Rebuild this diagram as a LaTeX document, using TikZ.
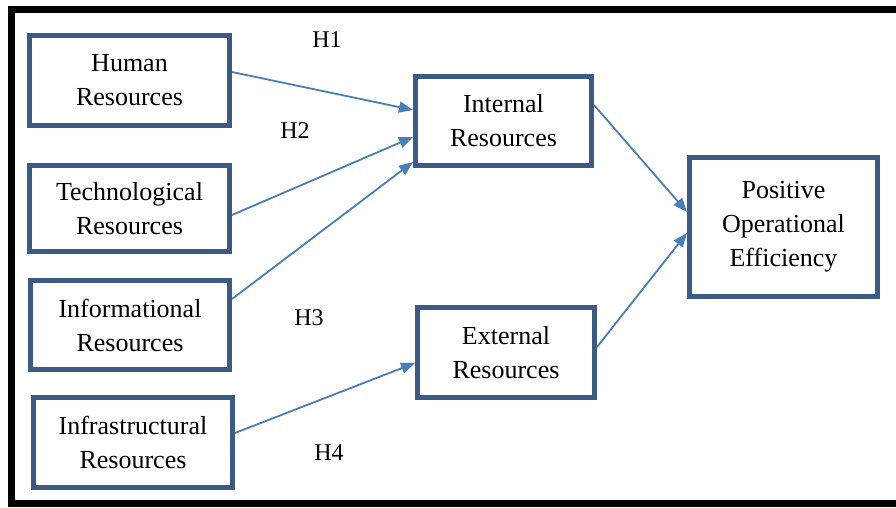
\documentclass[tikz,border=0pt]{standalone}
\usepackage{fontspec}
\setmainfont{Liberation Serif}
\usetikzlibrary{arrows.meta}
\definecolor{boxblue}{HTML}{3B5B84}
\definecolor{arrblue}{HTML}{4A7EBB}
\tikzset{
  rbox/.style={draw=boxblue, line width=5pt, fill=white, align=center,
    inner sep=0pt, font=\fontsize{26}{34}\selectfont},
  conn/.style={draw=arrblue, line width=1.8pt,
    -{Triangle[length=14pt,width=11pt]}},
  hlab/.style={font=\fontsize{24}{28}\selectfont, inner sep=0pt}
}
\begin{document}
\begin{tikzpicture}[x=1pt,y=-1pt]
\useasboundingbox (0,0) rectangle (896,508);
\clip (0,0) rectangle (896,508);
\fill[white] (0,0) rectangle (896,508);
\draw[black, line width=7pt] (11.5,9.5) rectangle (905,503);

\node[rbox, minimum width=200pt, minimum height=90pt] (hum) at (129.5,80.5) {Human\\Resources};
\node[rbox, minimum width=200pt, minimum height=86pt] (tech) at (129.5,208.5) {Technological\\Resources};
\node[rbox, minimum width=199pt, minimum height=89pt] (info) at (130,325) {Informational\\Resources};
\node[rbox, minimum width=199pt, minimum height=90pt] (infra) at (133,442.5) {Infrastructural\\Resources};
\node[rbox, minimum width=176pt, minimum height=89pt] (int) at (503.5,121) {Internal\\Resources};
\node[rbox, minimum width=177pt, minimum height=90pt] (ext) at (506,352.5) {External\\Resources};
\node[rbox, minimum width=188pt, minimum height=139pt] (pos) at (783.5,227) {Positive\\Operational\\Efficiency};

\node[hlab] (h1) at (327,40) {H1};
\node[hlab] (h2) at (295,131) {H2};
\node[hlab] (h3) at (309,318) {H3};
\node[hlab] (h4) at (329,453) {H4};

\draw[conn] ([yshift=8.5pt]hum.east) -- ([yshift=11pt]int.west);
\draw[conn] ([yshift=-6.5pt]tech.east) -- ([yshift=-16pt]int.west);
\draw[conn] ([yshift=26pt]info.east) -- ([yshift=-41pt]int.west);
\draw[conn] ([yshift=9.5pt]infra.east) -- ([yshift=-10.5pt]ext.west);
\draw[conn] ([yshift=16pt]int.east) -- ([yshift=15pt]pos.west);
\draw[conn] ([yshift=5.5pt]ext.east) -- ([yshift=-6pt]pos.west);
\end{tikzpicture}
\end{document}
